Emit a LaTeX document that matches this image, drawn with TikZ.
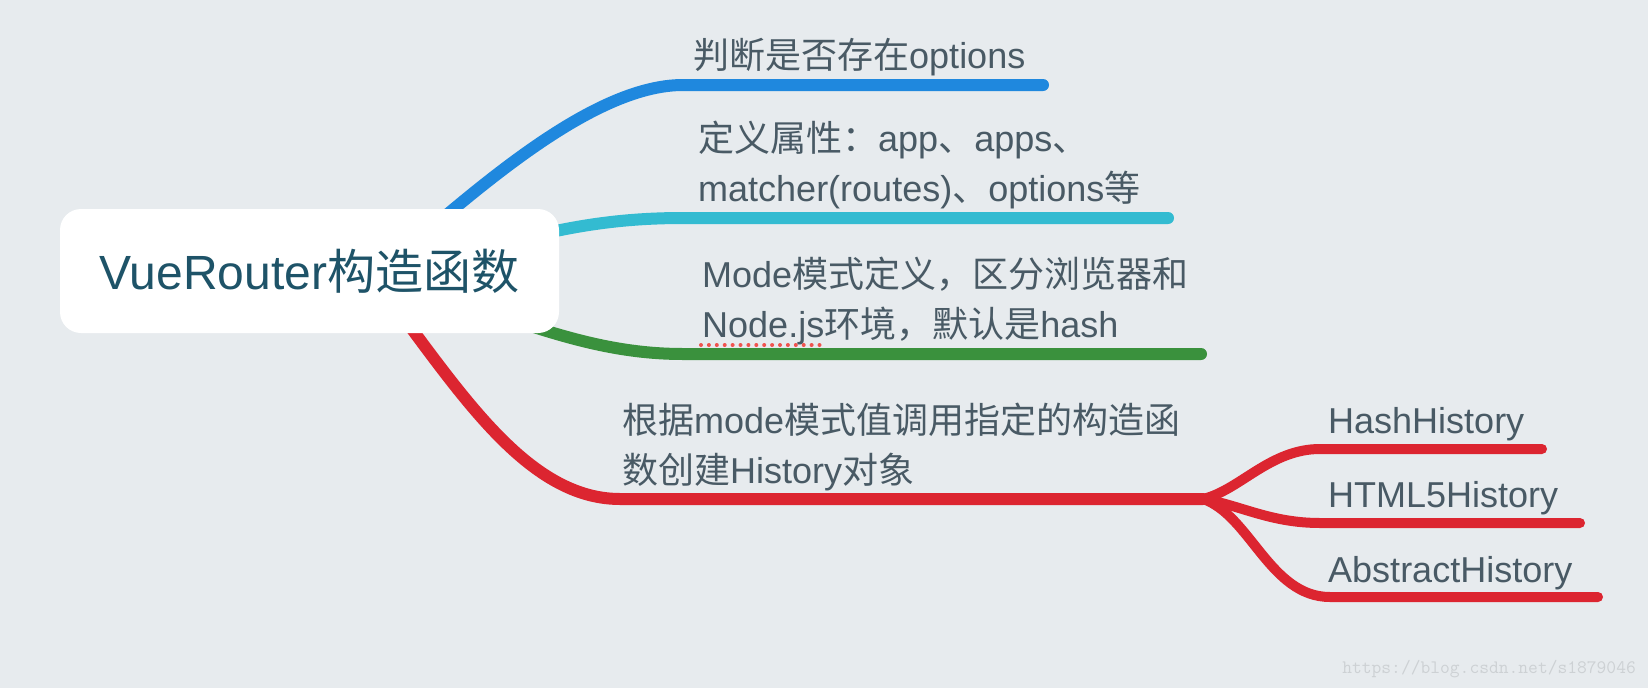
\documentclass[tikz,border=0pt]{standalone}
\usepackage{fontspec}
\setmainfont{Liberation Sans}
\newfontfamily\zhfont{Noto Sans CJK SC}
\usetikzlibrary{backgrounds}

\definecolor{paper}{HTML}{E7EBEE}
\definecolor{inkgray}{HTML}{495A65}
\definecolor{rootink}{HTML}{1E5368}
\definecolor{brblue}{HTML}{1F88DE}
\definecolor{brcyan}{HTML}{33BBD1}
\definecolor{brgreen}{HTML}{3A913D}
\definecolor{brred}{HTML}{DC2530}
\definecolor{spellred}{HTML}{F0544F}
\definecolor{markgray}{HTML}{CDD1D4}

\begin{document}
\begin{tikzpicture}[
  x=1pt, y=-1pt,
  root/.style={rectangle, rounded corners=21pt, fill=white, minimum width=499pt, minimum height=124pt, inner sep=0pt, text=rootink, font=\fontsize{48}{58}\selectfont},
  topic/.style={anchor=base west, inner sep=0pt, align=left, text=inkgray, font=\fontsize{36}{50}\selectfont},
  branch/.style={line width=12pt, line cap=round},
  twig/.style={line width=10pt, line cap=round, brred}
]
\useasboundingbox (0,0) rectangle (1648,688);

% Central topic
\node[root] (root) at (309.5,271) {VueRouter{\zhfont 构造函数}};

% Topic texts (base = last line)
\node[topic] (t1) at (693,68) {{\zhfont 判断是否存在}options};
\node[topic] (t2) at (698,201) {{\zhfont 定义属性：}app{\zhfont 、}apps{\zhfont 、}\\matcher(routes){\zhfont 、}options{\zhfont 等}};
\node[topic] (t3) at (702,337) {Mode{\zhfont 模式定义，区分浏览器和}\\Node.js{\zhfont 环境，默认是}hash};
\node[topic] (t4) at (622,483) {{\zhfont 根据}mode{\zhfont 模式值调用指定的构造函}\\{\zhfont 数创建}History{\zhfont 对象}};
\node[topic] (hash) at (1328,433) {HashHistory};
\node[topic] (html) at (1328,507) {HTML5History};
\node[topic] (abstract) at (1328,582) {AbstractHistory};

% Branch ends
\coordinate (e1) at (1043,85);
\coordinate (e2) at (1168,218);
\coordinate (e3) at (1201,354);
\coordinate (fork) at (1203,499);
\coordinate (h1) at (1542,449);
\coordinate (h2) at (1580,523);
\coordinate (h3) at (1598,597);

\node[anchor=base east, inner sep=0pt, text=markgray, font=\ttfamily\fontsize{19}{22}\selectfont] (mark) at (1636,673) {https://blog.csdn.net/s1879046};

\begin{pgfonlayer}{background}
\fill[paper] (0,0) rectangle (1648,688);

% Main branches
\draw[branch, brblue] (root.center) -- (381,271) .. controls (470,195) and (590,85) .. (683,85) -- (e1);
\draw[branch, brcyan] (root.center) -- (420,265) .. controls (520,240) and (580,218) .. (683,218) -- (e2);
\draw[branch, brgreen] (root.center) -- (420,290) .. controls (520,320) and (590,354) .. (683,354) -- (e3);
\draw[branch, brred] (root.center) -- (368,271) .. controls (450,375) and (520,499) .. (620,499) -- (fork);

% Sub branches
\draw[twig] (fork) .. controls (1240,490) and (1270,449) .. (1320,449) -- (h1);
\draw[twig] (fork) .. controls (1240,505) and (1270,523) .. (1320,523) -- (h2);
\draw[twig] (fork) .. controls (1250,515) and (1270,597) .. (1330,597) -- (h3);
\end{pgfonlayer}

% spell check marks
\draw[spellred, line width=4pt, line cap=round, dash pattern=on 0pt off 7.9pt] (701,345) -- (827,345);
\end{tikzpicture}
\end{document}
